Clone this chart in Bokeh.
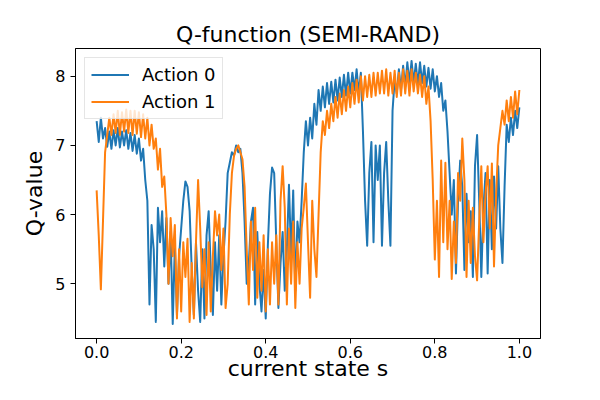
import numpy as np
from bokeh.plotting import figure
from bokeh.models import Range1d, FixedTicker, Legend, LegendItem
from bokeh.embed import file_html
from bokeh.resources import INLINE

# sampled states (uniform grid over [0, 1])
state = np.round(np.linspace(0.0, 1.0, 201), 3).tolist()

# Q-values
q_action0 = [
    7.35, 7.05, 7.40, 7.10, 7.25, 6.98, 7.20, 6.95, 7.22, 7.00,
    7.25, 6.97, 7.20, 7.00, 7.22, 6.95, 7.18, 6.92, 7.15, 6.88,
    7.10, 6.78, 6.95, 6.50, 6.20, 4.70, 5.85, 5.50, 4.45, 6.10,
    5.60, 6.05, 5.25, 5.95, 5.00, 5.75, 4.42, 5.55, 4.55, 5.40,
    5.80, 6.20, 6.48, 6.40, 6.05, 5.20, 4.55, 5.60, 4.90, 4.45,
    5.50, 4.50, 5.70, 6.05, 5.20, 4.55, 5.60, 4.90, 5.70, 4.70,
    5.40, 5.90, 6.60, 6.75, 6.90, 6.85, 7.00, 6.90, 6.95, 6.60,
    5.90, 5.00, 5.30, 5.90, 6.10, 4.70, 5.75, 5.00, 4.60, 5.20,
    4.50, 5.55, 6.30, 6.68, 6.60, 5.60, 4.65, 5.30, 5.75, 4.90,
    5.50, 6.43, 5.40, 6.35, 4.90, 5.90, 5.60, 6.20, 6.90, 7.35,
    7.00, 7.40, 7.10, 7.60, 7.30, 7.80, 7.50, 7.85, 7.55, 7.90,
    7.60, 7.92, 7.62, 7.95, 7.65, 7.98, 7.70, 8.02, 7.72, 8.05,
    7.75, 8.05, 7.80, 8.10, 7.75, 8.05, 7.20, 6.20, 5.55, 6.60,
    7.05, 5.60, 7.00, 6.50, 7.00, 5.55, 6.60, 7.05, 6.20, 5.55,
    7.50, 7.95, 7.75, 8.10, 7.80, 8.15, 7.85, 8.20, 7.90, 8.22,
    7.90, 8.18, 7.88, 8.20, 7.90, 8.15, 7.85, 8.12, 7.82, 8.10,
    7.78, 8.00, 7.70, 7.90, 7.50, 7.65, 7.20, 6.60, 6.00, 6.50,
    5.15, 6.20, 6.78, 6.40, 5.20, 6.30, 5.60, 6.05, 5.10, 6.70,
    7.15, 6.20, 5.10, 6.10, 6.60, 5.15, 6.50, 5.50, 6.55, 5.80,
    6.70, 5.80, 5.30, 6.40, 7.30, 7.05, 7.40, 7.15, 7.50, 7.25,
    7.55,
]

q_action1 = [
    6.35, 5.70, 4.92, 5.90, 6.90, 7.15, 7.40, 7.15, 7.45, 7.18,
    7.50, 7.15, 7.48, 7.20, 7.52, 7.18, 7.50, 7.15, 7.50, 7.17,
    7.48, 7.12, 7.45, 7.10, 7.40, 7.00, 7.30, 6.95, 7.10, 6.65,
    6.95, 6.40, 6.55, 6.00, 5.00, 5.95, 5.40, 5.85, 4.50, 5.50,
    4.60, 5.60, 5.10, 5.65, 4.45, 5.30, 4.50, 5.60, 6.50, 5.80,
    4.95, 5.50, 4.55, 5.60, 4.60, 5.40, 6.05, 5.70, 6.00, 5.20,
    5.80, 4.65, 5.00, 6.00, 6.60, 6.85, 6.95, 7.00, 6.90, 6.80,
    6.40, 5.50, 4.70, 5.90, 5.20, 6.10, 4.80, 5.60, 4.90, 5.70,
    4.60, 5.50, 4.70, 5.60, 5.00, 5.70, 4.70, 6.20, 6.70, 6.10,
    4.70, 5.80, 5.00, 5.90, 4.65, 5.60, 5.00, 5.80, 6.10, 6.45,
    5.60, 4.80, 6.20, 5.50, 5.10, 6.00, 6.90, 7.35, 7.15, 7.50,
    7.25, 7.60, 7.35, 7.70, 7.40, 7.75, 7.45, 7.80, 7.50, 7.85,
    7.55, 7.90, 7.60, 7.95, 7.62, 8.00, 7.65, 8.00, 7.70, 8.02,
    7.70, 8.05, 7.72, 8.05, 7.75, 8.08, 7.75, 8.10, 7.72, 8.05,
    7.75, 8.08, 7.70, 8.05, 7.72, 8.10, 7.75, 8.08, 7.72, 8.10,
    7.78, 8.05, 7.75, 8.02, 7.70, 8.00, 7.60, 7.85, 7.35, 6.50,
    5.35, 6.20, 5.10, 6.78, 5.60, 6.75, 5.50, 6.20, 5.07, 5.90,
    5.30, 6.60, 6.20, 7.10, 6.50, 5.10, 6.20, 5.30, 6.10, 5.40,
    5.05, 5.90, 6.70, 5.60, 6.30, 6.70, 5.80, 6.74, 5.25, 6.30,
    7.00, 7.25, 7.50, 7.30, 7.65, 7.35, 7.70, 7.40, 7.78, 7.45,
    7.80,
]

series_names = ["Action 0", "Action 1"]
series_colors = ["#1f77b4", "#ff7f0e"]
x_ticks = [0.0, 0.2, 0.4, 0.6, 0.8, 1.0]
x_tick_labels = ["0.0", "0.2", "0.4", "0.6", "0.8", "1.0"]
y_ticks = [5, 6, 7, 8]
y_tick_labels = ["5", "6", "7", "8"]

FONT = "DejaVu Sans"

p = figure(
    width=584, height=384,
    output_backend="svg", toolbar_location=None,
    x_range=Range1d(-0.05, 1.05), y_range=Range1d(4.21, 8.40),
    min_border_left=75, min_border_right=44,
    min_border_top=48, min_border_bottom=46,
    title="Q-function (SEMI-RAND)",
)
p.background_fill_color = "white"
p.border_fill_color = "white"
p.outline_line_color = "black"
p.outline_line_width = 1
p.xgrid.visible = False
p.ygrid.visible = False

p.title.text_font = FONT
p.title.text_font_size = "22px"
p.title.text_font_style = "normal"
p.title.text_color = "black"
p.title.align = "center"
p.title.standoff = 3

r0 = p.line(state, q_action0, line_color=series_colors[0], line_width=2, line_join="round")
r1 = p.line(state, q_action1, line_color=series_colors[1], line_width=2, line_join="round")

for ax in (p.xaxis[0], p.yaxis[0]):
    ax.axis_line_color = "black"
    ax.axis_line_width = 1
    ax.major_tick_line_color = "black"
    ax.major_tick_in = 0
    ax.major_tick_out = 5
    ax.minor_tick_line_color = None
    ax.major_label_text_font = FONT
    ax.major_label_text_font_size = "16px"
    ax.major_label_text_color = "black"
    ax.axis_label_text_font = FONT
    ax.axis_label_text_font_size = "22px"
    ax.axis_label_text_font_style = "normal"
    ax.axis_label_text_color = "black"

p.xaxis[0].ticker = FixedTicker(ticks=x_ticks)
p.xaxis[0].major_label_overrides = dict(zip(x_ticks, x_tick_labels))
p.xaxis[0].axis_label = "current state s"
p.xaxis[0].major_label_standoff = 2
p.xaxis[0].axis_label_standoff = -5

p.yaxis[0].ticker = FixedTicker(ticks=y_ticks)
p.yaxis[0].major_label_overrides = dict(zip(y_ticks, y_tick_labels))
p.yaxis[0].axis_label = "Q-value"
p.yaxis[0].major_label_standoff = 5
p.yaxis[0].axis_label_standoff = 5

legend = Legend(
    items=[LegendItem(label=series_names[0], renderers=[r0]),
           LegendItem(label=series_names[1], renderers=[r1])],
    location="top_left",
)
legend.label_text_font = FONT
legend.label_text_font_size = "18px"
legend.label_text_color = "black"
legend.glyph_width = 38
legend.glyph_height = 21
legend.label_standoff = 13
legend.spacing = 6
legend.padding = 6
legend.margin = 9
legend.border_line_color = "#cccccc"
legend.border_line_width = 1
legend.background_fill_color = "white"
legend.background_fill_alpha = 0.8
p.add_layout(legend)

open("out.html", "w").write(file_html(p, INLINE))
